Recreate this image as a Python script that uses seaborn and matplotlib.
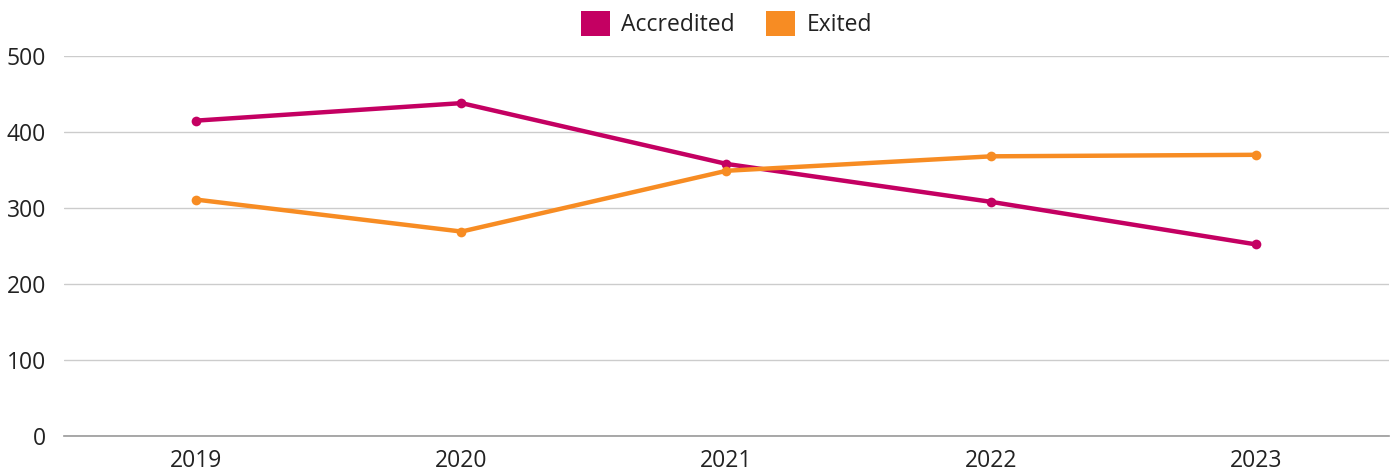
import matplotlib
matplotlib.use("Agg")
import matplotlib.pyplot as plt
import seaborn as sns
import pandas as pd
from matplotlib.patches import Patch

years = ["2019", "2020", "2021", "2022", "2023"]
accredited = [415, 438, 358, 308, 252]
exited = [311, 269, 349, 368, 370]
series_names = ["Accredited", "Exited"]
colors = ["#C40062", "#F78C23"]
yticks = [0, 100, 200, 300, 400, 500]

df = pd.DataFrame({
    "year": years * 2,
    "value": accredited + exited,
    "series": [series_names[0]] * len(years) + [series_names[1]] * len(years),
})

sns.set_theme(style="white")
plt.rcParams["font.family"] = ["Open Sans", "DejaVu Sans"]

fig = plt.figure(figsize=(13.95, 4.73), dpi=100)
ax = fig.add_axes([64 / 1395, 37 / 473, 1325 / 1395, 380 / 473])

sns.lineplot(data=df, x="year", y="value", hue="series", palette=colors,
             marker="o", markersize=7, markeredgewidth=0, linewidth=3.2,
             sort=False, ax=ax, legend=False)

ax.set_xlim(-0.5, 4.5)
ax.set_ylim(0, 500)
ax.set_yticks(yticks)
ax.set_yticklabels([str(v) for v in yticks])
ax.set_xlabel("")
ax.set_ylabel("")
ax.grid(axis="y", color="#cccccc", linewidth=1)
ax.set_axisbelow(True)
for s in ["top", "right", "left"]:
    ax.spines[s].set_visible(False)
ax.spines["bottom"].set_color("#999999")
ax.spines["bottom"].set_linewidth(1.2)
ax.tick_params(axis="both", length=0, labelsize=16.5, colors="#222222")
ax.tick_params(axis="x", pad=9)
ax.tick_params(axis="y", pad=13)

handles = [Patch(facecolor=c, edgecolor="none") for c in colors]
ax.legend(handles, series_names, loc="center", bbox_to_anchor=(0.5, (473 - 24 - 37) / 380),
          ncol=2, frameon=False, fontsize=16.5, handlelength=1.28, handleheight=1.28,
          handletextpad=0.5, columnspacing=1.35, labelcolor="#222222",
          borderaxespad=0, borderpad=0)

fig.savefig("out.png", dpi=100)
